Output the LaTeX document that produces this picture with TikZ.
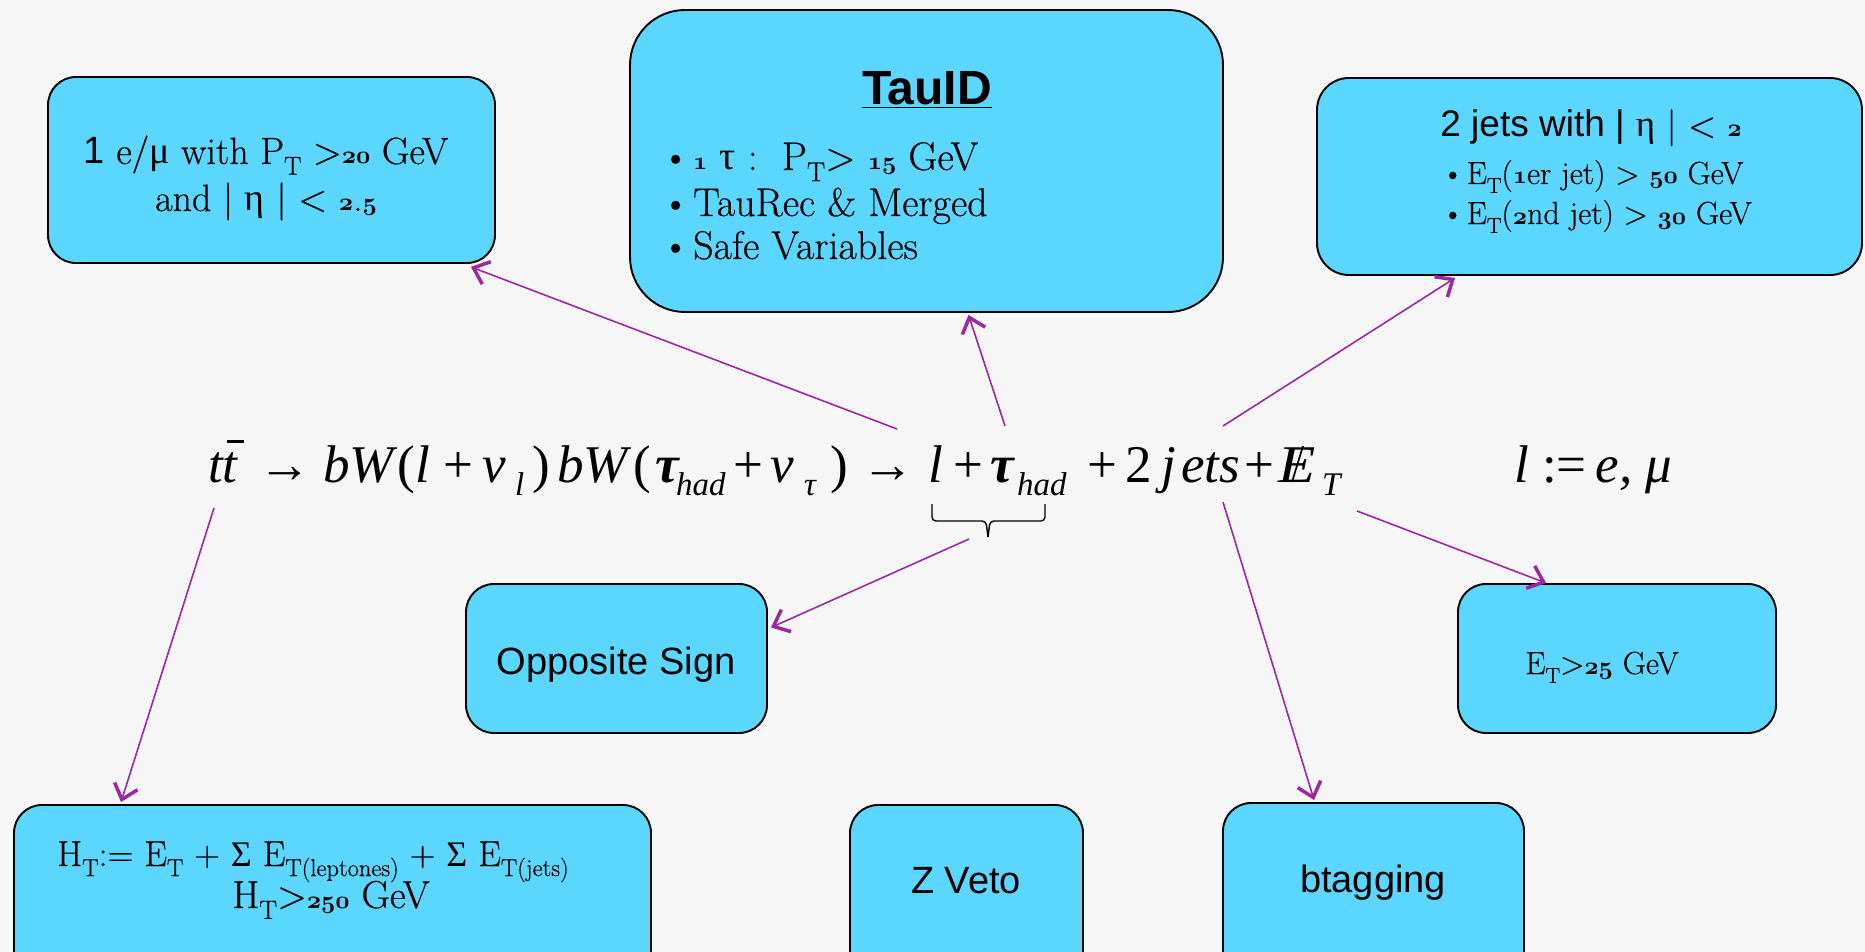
\documentclass[tikz,border=0pt]{standalone}
\usepackage{fontspec}
\usetikzlibrary{arrows.meta,calc}
\setmainfont{Latin Modern Roman}[FakeBold=0.4]
\newfontfamily\eqf{Liberation Serif}
\newfontfamily\gkf{Liberation Serif}
\newfontfamily\arialf{Liberation Sans}
\definecolor{boxfill}{HTML}{5BD6FF}
\definecolor{arr}{HTML}{9B289F}
\definecolor{bgc}{HTML}{F6F6F6}
\newcommand\osn[1]{{\usefont{OML}{cmm}{b}{it}#1}}
\newcommand\gk[1]{{\gkf #1}}
\newcommand\dn[1]{\raisebox{-0.28em}{\scalebox{0.68}{#1}}}
\newcommand\fs[1]{\fontsize{#1}{#1}\selectfont}
\newcommand\bul{\textbullet\hspace{0.08em}}
\newcommand\tbar{\makebox[0pt][l]{\raisebox{0.74em}{\kern0.08em\rule{0.32em}{0.045em}}}t}
\begin{document}
\begin{tikzpicture}[x=1pt,y=-1pt,
  box/.style={draw=black, line width=1.9pt, fill=boxfill, rounded corners=28pt, inner sep=0pt},
  conn/.style={draw=arr, line width=1.6pt, -{Straight Barb[length=14pt,width=24pt,line width=3.5pt]}},
  txt/.style={inner sep=0pt, text=black},
  eqp/.style={inner sep=0pt, anchor=base west, font=\eqf\fs{53}\itshape},
  eqs/.style={inner sep=0pt, anchor=base west, font=\eqf\fs{33}\itshape}]
\useasboundingbox (0,0) rectangle (1865,952);
\fill[bgc] (0,0) rectangle (1865,952);
\clip (0,0) rectangle (1865,952);

% boxes
\node[box, minimum width=447, minimum height=186] (lep) at (271.5,170) {};
\node[box, rounded corners=55pt, minimum width=593, minimum height=302] (tau) at (926.5,161) {};
\node[box, rounded corners=32pt, minimum width=545, minimum height=197] (jets) at (1589.5,176.5) {};
\node[box, minimum width=301, minimum height=149] (opp) at (616.5,658.5) {};
\node[box, minimum width=318, minimum height=149] (et) at (1617,658.5) {};
\node[box, minimum width=637, minimum height=190] (ht) at (332.5,900) {};
\node[box, minimum width=233, minimum height=190] (zv) at (966.5,900) {};
\node[box, minimum width=301, minimum height=190] (bt) at (1373.5,898) {};

% box texts
\node[txt, align=center, font=\fontsize{38}{47}\selectfont] (leptxt) at (266,178)
  {{\arialf 1} e/\gk{μ} with P\dn{T} >\osn{20} GeV\\ and | \gk{η} | < \osn{2}.\osn{5}};
\node[txt, anchor=base] (tauh) at (927,105) {\arialf\fontsize{48}{48}\selectfont\bfseries\underline{TauID}};
\node[txt, anchor=base west] (tb1) at (661,170) {\fs{40}\bul\osn{1} \gk{τ} :\ \ P\dn{T}> \osn{15} GeV};
\node[txt, anchor=base west] (tb2) at (661,216) {\fs{40}\bul TauRec \& Merged};
\node[txt, anchor=base west] (tb3) at (661,259) {\fs{40}\bul Safe Variables};
\node[txt, anchor=base] (jh) at (1591,137) {\fs{37}{\arialf 2 jets with |} \gk{η} | < \osn{2}};
\node[txt, anchor=base west] (jb1) at (1441,184) {\fs{32}\bul E\dn{T}(\osn{1}er jet) > \osn{50} GeV};
\node[txt, anchor=base west] (jb2) at (1441,224) {\fs{32}\bul E\dn{T}(\osn{2}nd jet) > \osn{30} GeV};
\node[txt] (oppt) at (616,665) {\arialf\fs{38}Opposite Sign};
\node[txt, anchor=base] (ett) at (1602,674) {\fs{32}E\dn{T}>\osn{25} GeV};
\node[txt, anchor=base] (ht1) at (313,866) {\fs{36}H\dn{T}:= E\dn{T} + \gk{Σ} E\dn{T(leptones)} + \gk{Σ} E\dn{T(jets)}};
\node[txt, anchor=base] (ht2) at (331,908) {\fs{39}H\dn{T}>\osn{250} GeV};
\node[txt] (zvt) at (966,881) {\arialf\fs{38}Z Veto};
\node[txt] (btt) at (1373,883) {\arialf\fs{38}btagging};

% equation, piece by piece
\node[eqp] (e1) at (208,482) {t\tbar};
\node[eqp] (e2) at (258,482) {\upshape →};
\node[eqp] (e3) at (323,482) {bW};
\node[eqp] (e4) at (397,482) {\upshape (};
\node[eqp] (e5) at (415,482) {l};
\node[eqp] (e6) at (443,482) {\upshape +};
\node[eqp] (e7) at (482,482) {ν};
\node[eqs] (e8) at (515,495) {l};
\node[eqp] (e9) at (532,482) {\upshape )};
\node[eqp] (e10) at (557,482) {bW};
\node[eqp] (e11) at (633,482) {\upshape (};
\node[eqp] (e12) at (655,482) {\bfseries τ};
\node[eqs] (e13) at (676,495) {had};
\node[eqp] (e14) at (733,482) {\upshape +};
\node[eqp] (e15) at (770,482) {ν};
\node[eqs] (e16) at (804,495) {τ};
\node[eqp] (e17) at (830,482) {\upshape )};
\node[eqp] (e18) at (861,482) {\upshape →};
\node[eqp] (e19) at (928,482) {l};
\node[eqp] (e20) at (953,482) {\upshape +};
\node[eqp] (e21) at (990,482) {\bfseries τ};
\node[eqs] (e22) at (1017,495) {had};
\node[eqp] (e23) at (1087,482) {\upshape +};
\node[eqp] (e24) at (1125,482) {\upshape 2};
\node[eqp] (e25) at (1161,482) {j};
\node[eqp] (e26) at (1181,482) {ets};
\node[eqp] (e27) at (1244,482) {\upshape +};
\node[eqp] (e28) at (1278,482) {\scalebox{1.15}[1]{E}};
\node[eqs] (e29) at (1322,495) {T};
\draw[line width=1.7pt] (1292,482) -- (1303,446);
\node[eqp] (ldef) at (1514,482) {l\upshape\ :=\,\itshape e, μ};

% brace
\draw[line width=1.4pt, rounded corners=4pt] (932,504) -- (932,521) -- (986,521) -- (988,537);
\draw[line width=1.4pt, rounded corners=4pt] (1045,504) -- (1045,521) -- (990,521) -- (988,537);

% arrow start points
\coordinate (s1) at (897,429);
\coordinate (s2) at (1005,426);
\coordinate (s3) at (1223,426);
\coordinate (s4) at (1357,511);
\coordinate (s5) at (1223,502);
\coordinate (s6) at (969,539);
\coordinate (s7) at (214,508);

\draw[conn] (s1) -- ($(lep.south east)+(-25,3)$);
\draw[conn] (s2) -- ($(tau.south)+(42,2)$);
\draw[conn] (s3) -- ($(jets.south west)+(139,2)$);
\draw[conn] (s4) -- ($(et.north west)+(89,0)$);
\draw[conn] (s5) -- ($(bt.north west)+(92,-2)$);
\draw[conn] (s6) -- ($(opp.east)+(3,-31)$);
\draw[conn] (s7) -- ($(ht.north west)+(108,-2)$);
\end{tikzpicture}
\end{document}
